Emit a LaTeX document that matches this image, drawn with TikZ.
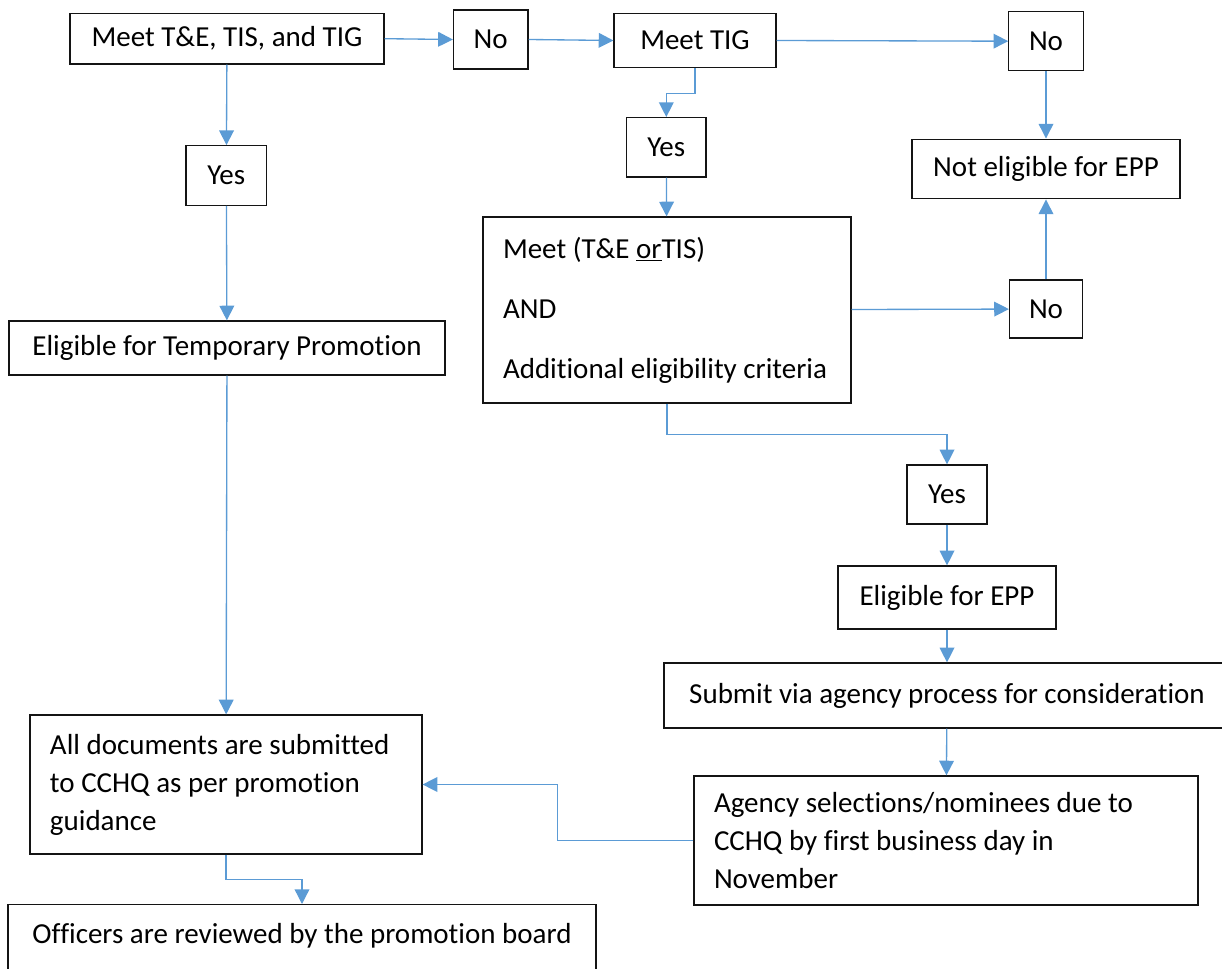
\documentclass[tikz,border=0pt]{standalone}
\usepackage{fontspec}
\setmainfont{Carlito}[Ligatures=CommonOff]
\usetikzlibrary{arrows.meta,calc}
\definecolor{LinkBlue}{RGB}{91,155,213}
\definecolor{BoxInk}{RGB}{20,20,20}

\begin{document}
\begin{tikzpicture}[
    x=0.75pt,y=-0.75pt,
    box/.style={draw=BoxInk,line width=0.9pt,inner sep=0pt,align=center,font=\fontsize{21.75pt}{28.5pt}\selectfont},
    textbox/.style={box,align=flush left,inner xsep=15pt},
    arrow/.style={-{Triangle[length=11pt,width=11pt]},line width=1pt,LinkBlue}
  ]
    \useasboundingbox (0,0) rectangle (1222,969);

    % top row
    \node[box,minimum width=235.5pt,minimum height=38pt] (meetall) at (227,38.7) {Meet T\&E, TIS, and TIG};
    \node[box,minimum width=55.9pt,minimum height=44.3pt] (noA) at (490.7,39.5) {No};
    \node[box,minimum width=121.5pt,minimum height=40.8pt] (meettig) at (695,40.5) {Meet TIG};
    \node[box,minimum width=55.8pt,minimum height=44.3pt] (noB) at (1046,41.2) {No};

    % left column
    \node[box,minimum width=60.4pt,minimum height=44.7pt] (yesA) at (226.3,175.5) {Yes};
    \node[box,minimum width=327pt,minimum height=40.5pt] (eligtemp) at (227,348) {Eligible for Temporary Promotion};
    \node[textbox,text width=264pt,minimum height=104.25pt] (alldocs) at (226,784.5)
      {All documents are submitted\\to CCHQ as per promotion\\guidance};
    \node[box,anchor=north,minimum width=441pt,inner ysep=13.9pt,text height=15pt,text depth=15pt] (officers) at (302,904)
      {Officers are reviewed by the promotion board};

    % middle and right
    \node[box,minimum width=59.5pt,minimum height=44.5pt] (yesB) at (666.3,147.3) {Yes};
    \node[textbox,text width=246pt,minimum height=139.5pt] (meetor) at (667,310)
      {Meet (T\&E \underline{or}TIS)\\[16.5pt]AND\\[16.5pt]Additional eligibility criteria};
    \node[box,minimum width=201pt,minimum height=44.8pt] (noteli) at (1046,169) {Not eligible for EPP};
    \node[box,minimum width=54.75pt,minimum height=43.5pt] (noC) at (1046,309) {No};
    \node[box,minimum width=60pt,minimum height=44.25pt] (yesC) at (947,494.5) {Yes};
    \node[box,minimum width=163.5pt,minimum height=47.25pt] (eligepp) at (947,597.5) {Eligible for EPP};
    \node[box,minimum width=424.5pt,minimum height=48.75pt] (submit) at (947,695.5) {Submit via agency process for consideration};
    \node[textbox,text width=348pt,minimum height=96.75pt] (agency) at (946,840.5)
      {Agency selections/nominees due to\\CCHQ by first business day in\\November};

    % connectors
    \draw[arrow] (meetall.east) -- (noA.west);
    \draw[arrow] (noA.east) -- (meettig.west);
    \draw[arrow] (meettig.east) -- (noB.west);
    \draw[arrow] (meetall) -- (yesA);
    \draw[arrow] (yesA) -- (eligtemp);
    \draw[arrow] (eligtemp) -- (alldocs);
    \draw[arrow] (meettig.south) -- ++(0,25) -| (yesB.north);
    \draw[arrow] (yesB) -- (meetor);
    \draw[arrow] (noB) -- (noteli);
    \draw[arrow] (meetor) -- (noC);
    \draw[arrow] (noC) -- (noteli);
    \draw[arrow] (meetor.south) -- ++(0,31) -| (yesC.north);
    \draw[arrow] (yesC) -- (eligepp);
    \draw[arrow] (eligepp) -- (submit);
    \draw[arrow] (submit) -- (agency);
    \draw[arrow] (agency.west) -- ++(-136,0) |- (alldocs.east);
    \draw[arrow] (alldocs.south) -- ++(0,25) -| (officers.north);
\end{tikzpicture}
\end{document}
